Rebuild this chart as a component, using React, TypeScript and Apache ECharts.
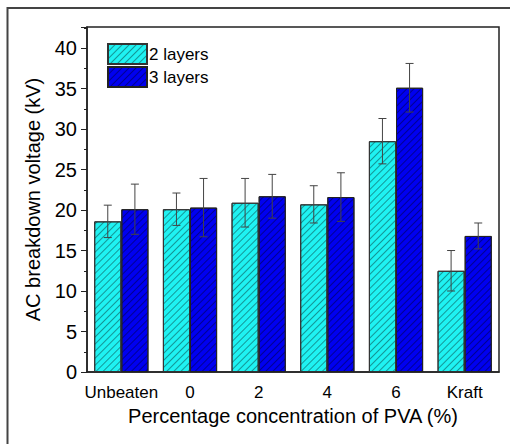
import React, { useEffect, useRef } from "react";
import * as echarts from "echarts";

const categories = ["Unbeaten", "0", "2", "4", "6", "Kraft"];
const seriesNames = ["2 layers", "3 layers"];
const twoLayers = [18.6, 20.1, 20.9, 20.7, 28.5, 12.5];
const twoLayersErr = [2.0, 2.0, 3.0, 2.3, 2.8, 2.5];
const threeLayers = [20.1, 20.3, 21.7, 21.6, 35.1, 16.8];
const threeLayersErr = [3.1, 3.6, 2.7, 3.0, 3.0, 1.6];

const FONT = "Liberation Sans, Arial, sans-serif";
const BAR_GAP_FRAC = 0.21;

export default function App() {
  const ref = useRef<HTMLDivElement>(null);
  useEffect(() => {
    if (!ref.current) return;
    const chart = echarts.init(ref.current, null, { renderer: "svg" });

    const hatch = {
      symbol: "rect",
      symbolSize: 1,
      dashArrayX: [1, 0],
      dashArrayY: [1, 3.5],
      rotation: -Math.PI / 4,
      color: "rgba(0,0,0,0.38)",
    };

    const errData: any[] = [];
    twoLayers.forEach((v, i) => errData.push([i, v, twoLayersErr[i], -1]));
    threeLayers.forEach((v, i) => errData.push([i, v, threeLayersErr[i], 1]));

    const option: any = {
      animation: false,
      textStyle: { fontFamily: FONT },
      graphic: [
        {
          type: "rect",
          shape: { x: 7.5, y: 8, width: 700, height: 700 },
          style: { fill: "none", stroke: "#444", lineWidth: 2 },
          silent: true,
        },
      ],
      legend: {
        orient: "vertical",
        left: 107,
        top: 43,
        itemWidth: 39,
        itemHeight: 20,
        itemGap: 1,
        padding: 0,
        icon: "rect",
        textStyle: { fontSize: 17, color: "#000", fontFamily: FONT, padding: [0, 0, 0, -3] },
        data: seriesNames,
      },
      grid: {
        left: 87,
        right: 11,
        top: 27,
        bottom: 72,
        show: true,
        borderColor: "#222",
        borderWidth: 1.5,
        backgroundColor: "transparent",
      },
      xAxis: [
        {
          type: "category",
          data: categories,
          position: "bottom",
          axisLine: { lineStyle: { color: "#222", width: 1.5 } },
          axisTick: { alignWithLabel: true, length: 5, interval: 0, lineStyle: { color: "#222" } },
          axisLabel: { fontSize: 17, color: "#000", margin: 12, interval: 0, fontFamily: FONT },
          name: "Percentage concentration of PVA (%)",
          nameLocation: "middle",
          nameGap: 34,
          nameTextStyle: { fontSize: 20, color: "#000", fontFamily: FONT },
        },
        {
          type: "category",
          data: categories,
          position: "bottom",
          axisLine: { show: false },
          axisTick: { length: 3, interval: 0, lineStyle: { color: "#222" } },
          axisLabel: { show: false },
        },
      ],
      yAxis: {
        type: "value",
        min: 0,
        max: 42.6,
        interval: 5,
        axisLine: { show: true, lineStyle: { color: "#222", width: 1.5 } },
        axisTick: { show: true, length: 6, lineStyle: { color: "#222" } },
        minorTick: { show: true, splitNumber: 2, length: 3, lineStyle: { color: "#222" } },
        splitLine: { show: false },
        axisLabel: {
          fontSize: 20,
          color: "#000",
          margin: 10,
          fontFamily: FONT,
          formatter: (v: number) => (v % 5 === 0 ? String(v) : ""),
        },
        name: "AC breakdown voltage (kV)",
        nameLocation: "middle",
        nameGap: 44,
        nameTextStyle: { fontSize: 20, color: "#000", fontFamily: FONT },
      },
      series: [
        {
          name: seriesNames[0],
          type: "bar",
          data: twoLayers,
          barGap: "0%",
          barCategoryGap: BAR_GAP_FRAC * 100 + "%",
          itemStyle: { color: "#1ff2f2", borderColor: "#333", borderWidth: 1, decal: hatch },
        },
        {
          name: seriesNames[1],
          type: "bar",
          data: threeLayers,
          barGap: "0%",
          barCategoryGap: BAR_GAP_FRAC * 100 + "%",
          itemStyle: { color: "#0000f0", borderColor: "#222", borderWidth: 1, decal: hatch },
        },
        {
          type: "custom",
          name: "err",
          data: errData,
          z: 10,
          renderItem: (params: any, api: any) => {
            const i = api.value(0);
            const v = api.value(1);
            const e = api.value(2);
            const side = api.value(3);
            const band = api.size([1, 0])[0];
            const bw = (band * (1 - BAR_GAP_FRAC)) / 2;
            const c = api.coord([i, v]);
            const x = c[0] + (side * bw) / 2;
            const top = api.coord([i, v + e])[1];
            const bot = api.coord([i, v - e])[1];
            const cap = 4;
            const st = { stroke: "#444", lineWidth: 1 };
            return {
              type: "group",
              children: [
                { type: "line", shape: { x1: x, y1: top, x2: x, y2: bot }, style: st },
                { type: "line", shape: { x1: x - cap, y1: top, x2: x + cap, y2: top }, style: st },
                { type: "line", shape: { x1: x - cap, y1: bot, x2: x + cap, y2: bot }, style: st },
              ],
            };
          },
        },
      ],
    };
    chart.setOption(option);
    return () => chart.dispose();
  }, []);
  return (
    <div
      ref={ref}
      style={{ position: "absolute", left: 0, top: 0, width: 510, height: 444 }}
    />
  );
}
